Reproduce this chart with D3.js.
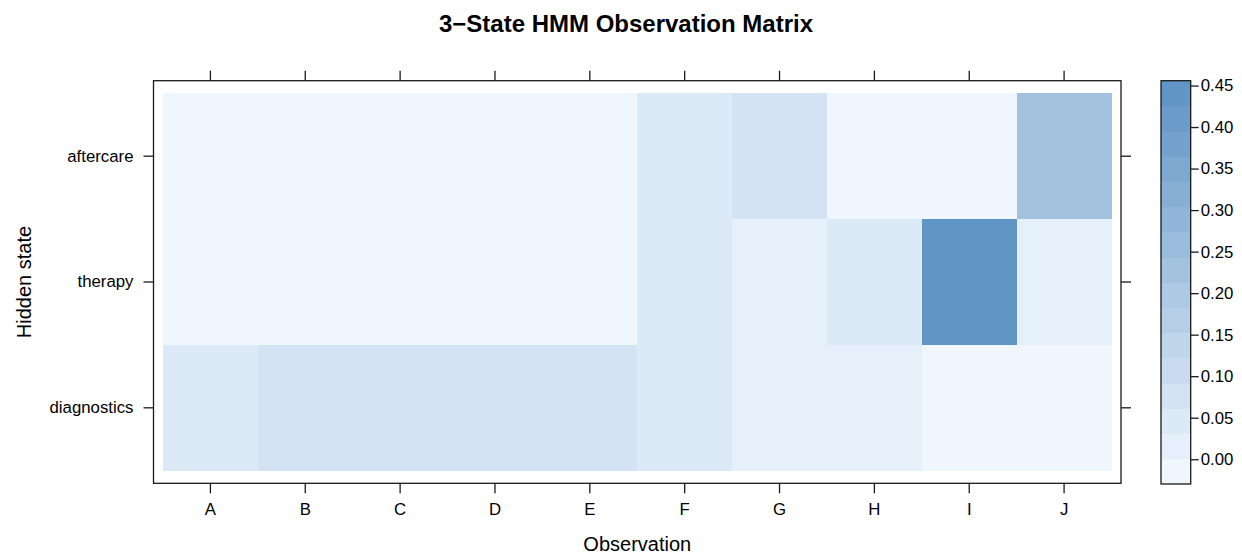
<!DOCTYPE html>
<html>
<head>
<meta charset="utf-8">
<script src="https://cdn.jsdelivr.net/npm/d3@7"></script>
<style>
  html, body { margin: 0; padding: 0; background: #fff; }
  svg { display: block; font-family: "Liberation Sans", Arial, Helvetica, sans-serif; }
</style>
</head>
<body>
<svg id="chart" width="1242" height="554"></svg>
<script>
// Emission probabilities: one row per hidden state, one column per observation symbol.
const observations = ["A", "B", "C", "D", "E", "F", "G", "H", "I", "J"];
const states = ["aftercare", "therapy", "diagnostics"];

const aftercareProbs   = [0.000, 0.000, 0.000, 0.000, 0.000, 0.045, 0.075, 0.000, 0.000, 0.230];
const therapyProbs     = [0.000, 0.000, 0.000, 0.000, 0.000, 0.045, 0.015, 0.045, 0.426, 0.015];
const diagnosticsProbs = [0.045, 0.075, 0.075, 0.075, 0.075, 0.045, 0.015, 0.015, 0.000, 0.000];

const keyTicks = [0.00, 0.05, 0.10, 0.15, 0.20, 0.25, 0.30, 0.35, 0.40, 0.45];

const titleText = "3\u2212State HMM Observation Matrix";
const xLabel = "Observation";
const yLabel = "Hidden state";

// ---- build the cell table ----
const rowsByState = {
  aftercare: aftercareProbs,
  therapy: therapyProbs,
  diagnostics: diagnosticsProbs
};
const cells = [];
states.forEach(s => observations.forEach((o, i) => cells.push({ state: s, obs: o, value: rowsByState[s][i] })));

// ---- colour levels: 16 equal intervals over the slightly widened value range ----
const allValues = cells.map(d => d.value);
const [zMin, zMax] = d3.extent(allValues);
const pad = 0.07 * (zMax - zMin);
const lo = zMin - pad, hi = zMax + pad;
const nLevels = 16;
const breaks = d3.range(nLevels + 1).map(k => lo + k * (hi - lo) / nLevels);
const ramp = d3.interpolateRgb("#EFF6FE", "#6195C5");
const levelColors = d3.range(nLevels).map(k => ramp(k / (nLevels - 1)));
const colorOf = d3.scaleThreshold().domain(breaks.slice(1, -1)).range(levelColors);

// ---- layout ----
const svg = d3.select("#chart");
const panel = { left: 153.5, right: 1121, top: 80.7, bottom: 483.3 };
const keyBox = { left: 1161, right: 1190.7, top: 80.7, bottom: 484 };

const x = d3.scaleBand().domain(observations)
  .range([panel.left, panel.right]).paddingInner(0).paddingOuter(0.1);
const y = d3.scaleBand().domain(states)
  .range([panel.top, panel.bottom]).paddingInner(0).paddingOuter(0.1);

// cells
svg.append("g").selectAll("rect").data(cells).join("rect")
  .attr("x", d => x(d.obs))
  .attr("y", d => y(d.state))
  .attr("width", x.bandwidth() + 0.5)
  .attr("height", y.bandwidth() + 0.5)
  .attr("fill", d => colorOf(d.value))
  .attr("shape-rendering", "crispEdges");

// panel frame
const lineCol = "#1a1a1a";
svg.append("rect")
  .attr("x", panel.left).attr("y", panel.top)
  .attr("width", panel.right - panel.left).attr("height", panel.bottom - panel.top)
  .attr("fill", "none").attr("stroke", lineCol).attr("stroke-width", 1.3);

function styleAxis(g, fontSize) {
  g.select(".domain").remove();
  g.selectAll(".tick line").attr("stroke", lineCol).attr("stroke-width", 1.3);
  g.selectAll(".tick text").attr("fill", "#000").attr("font-size", fontSize)
    .attr("font-family", "'Liberation Sans', Arial, Helvetica, sans-serif");
}

const tickFont = 16.8;
svg.append("g").attr("transform", `translate(0,${panel.bottom})`)
  .call(d3.axisBottom(x).tickSize(10).tickPadding(10))
  .call(g => styleAxis(g, tickFont));
svg.append("g").attr("transform", `translate(0,${panel.top})`)
  .call(d3.axisTop(x).tickSize(10).tickFormat(""))
  .call(g => styleAxis(g, tickFont));
svg.append("g").attr("transform", `translate(${panel.left},0)`)
  .call(d3.axisLeft(y).tickSize(10).tickPadding(10))
  .call(g => styleAxis(g, tickFont));
svg.append("g").attr("transform", `translate(${panel.right},0)`)
  .call(d3.axisRight(y).tickSize(10).tickFormat(""))
  .call(g => styleAxis(g, tickFont));

// colour key
const keyY = d3.scaleLinear().domain([lo, hi]).range([keyBox.bottom, keyBox.top]);
svg.append("g").selectAll("rect").data(levelColors).join("rect")
  .attr("x", keyBox.left)
  .attr("y", (c, k) => keyY(breaks[k + 1]))
  .attr("width", keyBox.right - keyBox.left)
  .attr("height", (c, k) => keyY(breaks[k]) - keyY(breaks[k + 1]) + 0.4)
  .attr("fill", c => c)
  .attr("shape-rendering", "crispEdges");
svg.append("rect")
  .attr("x", keyBox.left).attr("y", keyBox.top)
  .attr("width", keyBox.right - keyBox.left).attr("height", keyBox.bottom - keyBox.top)
  .attr("fill", "none").attr("stroke", lineCol).attr("stroke-width", 1.3);
svg.append("g").attr("transform", `translate(${keyBox.right},0)`)
  .call(d3.axisRight(keyY).tickValues(keyTicks).tickFormat(d3.format(".2f")).tickSize(8).tickPadding(2))
  .call(g => styleAxis(g, tickFont));

// titles
svg.append("text")
  .attr("x", 626).attr("y", 32)
  .attr("text-anchor", "middle")
  .attr("font-size", 24).attr("font-weight", "bold")
  .text(titleText);
svg.append("text")
  .attr("x", (panel.left + panel.right) / 2).attr("y", 551)
  .attr("text-anchor", "middle")
  .attr("font-size", 20)
  .text(xLabel);
svg.append("text")
  .attr("transform", `translate(31,${(panel.top + panel.bottom) / 2}) rotate(-90)`)
  .attr("text-anchor", "middle")
  .attr("font-size", 20)
  .text(yLabel);
</script>
</body>
</html>
